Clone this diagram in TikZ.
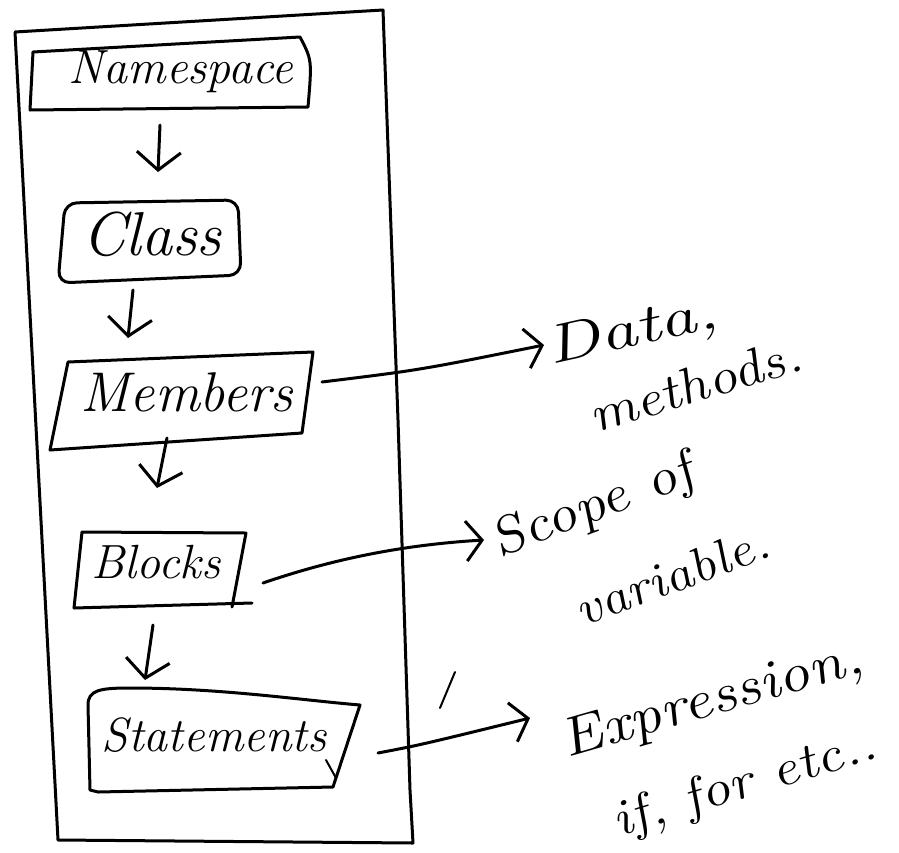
\documentclass[tikz,border=0pt]{standalone}
\usetikzlibrary{arrows.meta}
\begin{document}
\begin{tikzpicture}[x=1pt,y=-1pt,
  line width=3pt, line join=round, line cap=round,
  lbl/.style={font=\fontsize{#1}{#1}\selectfont\itshape, inner sep=0pt},
  note/.style={font=\fontsize{#1}{#1}\selectfont\itshape, inner sep=0pt, xscale=1.2},
  down/.style={-{Straight Barb[length=18pt,width=44pt,line width=3pt]}},
  side/.style={-{Straight Barb[length=16pt,width=40pt,line width=3pt]}}]
\useasboundingbox (0,0) rectangle (899,852);

% outer frame
\draw (15,32) -- (383,10) -- (398,420) -- (410,790) -- (413,843) -- (58,840) -- cycle;

% box labels
\node[lbl=48] (ns)  at (181,72)  {Namespace};
\node[lbl=62] (cls) at (152,234) {Class};
\node[lbl=56] (mem) at (187,392) {Members};
\node[lbl=48] (blk) at (156,562) {Blocks};
\node[lbl=48] (stm) at (214,735) {Statements};

% box outlines
\draw (33,52) -- (300,37) .. controls (312,60) .. (308,107) -- (30,110) -- cycle;
\draw[rounded corners=12pt] (65,203) -- (238,200) -- (241,275) -- (58,283) -- cycle;
\draw (68,362) -- (313,352) -- (302,433) -- (50,450) -- cycle;
\draw (74,608) -- (82,532) -- (246,533) -- (232,607);
\draw (74,608) -- (252,603);
\draw (98,792) -- (90,790) -- (88,705) .. controls (88,690) and (100,688) .. (130,688)
      .. controls (220,688) and (300,700) .. (360,705) -- (333,787) -- cycle;
\draw[line width=2pt] (326,760) -- (336,778);

% anchor points of the boxes
\coordinate (ns-s)  at (160,125);
\coordinate (cls-n) at (158,172);
\coordinate (cls-s) at (133,290);
\coordinate (mem-n) at (128,338);
\coordinate (mem-s) at (167,438);
\coordinate (blk-n) at (157,488);
\coordinate (blk-s) at (153,625);
\coordinate (stm-n) at (145,680);
\coordinate (mem-e) at (322,382);
\coordinate (blk-e) at (263,583);
\coordinate (stm-e) at (378,753);

% downward flow
\draw[down] (ns-s) -- (cls-n);
\draw[down] (cls-s) -- (mem-n);
\draw[down] (mem-s) -- (blk-n);
\draw[down] (blk-s) -- (stm-n);

% side notes
\node[note=54, rotate=15, xscale=1.15] (data) at (632,333) {Data,};
\node[note=50, rotate=20] (meth) at (694,385) {methods.};
\node[note=52, rotate=24, align=left, font=\fontsize{52}{92}\selectfont\itshape]
  (scope) at (628,540) {Scope of\\\hspace*{36pt}\fontsize{48}{92}\selectfont variable.};
\node[note=54, rotate=19] (expr) at (712,702) {Expression,};
\node[note=50, rotate=20] (iff) at (745,785) {if, for etc..};

\coordinate (data-w) at (544,345);
\coordinate (scope-w) at (484,540);
\coordinate (expr-w) at (530,718);

\draw[side] (mem-e) .. controls (420,370) .. (data-w);
\draw[side] (blk-e) .. controls (330,560) and (400,545) .. (scope-w);
\draw[side] (stm-e) .. controls (420,745) .. (expr-w);

% stray pen stroke
\draw[line width=2pt] (455,672) -- (440,708);
\end{tikzpicture}
\end{document}
